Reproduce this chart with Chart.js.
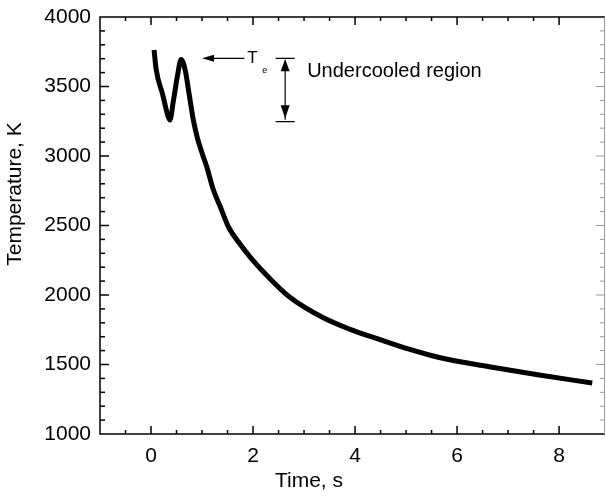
<!DOCTYPE html>
<html>
<head>
<meta charset="utf-8">
<script src="https://cdn.jsdelivr.net/npm/chart.js@4.4.0/dist/chart.umd.min.js"></script>
<style>
  html, body { margin: 0; padding: 0; background: #fff; }
  canvas { display: block; }
</style>
</head>
<body>
<canvas id="coolingChart" width="606" height="498"></canvas>
<script>
// cooling curve
const timeS = [0.06, 0.10, 0.23, 0.33, 0.37, 0.44, 0.52, 0.59, 0.67, 0.75, 0.83, 0.91, 1.00, 1.10, 1.21, 1.36, 1.53, 1.73, 1.96, 2.32, 2.71, 3.36, 3.89, 4.48, 5.06, 5.65, 6.63, 7.61, 8.65];
const tempK = [3763, 3625, 3440, 3290, 3259, 3400, 3580, 3695, 3619, 3439, 3259, 3129, 3022, 2914, 2770, 2633, 2482, 2374, 2266, 2122, 1988, 1840, 1755, 1680, 1610, 1550, 1484, 1424, 1367];

const xMajorLabels = [0, 2, 4, 6, 8];
const yMajorLabels = [1000, 1500, 2000, 2500, 3000, 3500, 4000];

// annotation values
const teLevel = 3703;      // T_e
const minLevel = 3247;     // bottom of undercooled region
const teArrowFrom = 1.83;
const teArrowTo = 1.0;
const regionX = 2.63;

const FONT = "'Liberation Sans', Arial, sans-serif";

const framePlugin = {
    id: 'frame',
    afterDraw(chart) {
        const { ctx, chartArea: a, scales } = chart;
        const xs = scales.x, ys = scales.y;
        ctx.save();

        // box
        ctx.strokeStyle = '#000';
        ctx.lineWidth = 1.5;
        ctx.beginPath();
        ctx.moveTo(a.right, a.top);
        ctx.lineTo(a.left, a.top);
        ctx.lineTo(a.left, a.bottom);
        ctx.lineTo(a.right, a.bottom);
        ctx.stroke();
        ctx.strokeStyle = '#999';
        ctx.lineWidth = 1;
        ctx.beginPath();
        ctx.moveTo(a.right - 0.5, a.top);
        ctx.lineTo(a.right - 0.5, a.bottom);
        ctx.stroke();

        // inward ticks on all four sides
        ctx.strokeStyle = '#000';
        ctx.lineWidth = 1.5;
        xs.ticks.forEach(t => {
            const v = Math.round(t.value * 100) / 100;
            if (Math.abs(v * 2 - Math.round(v * 2)) > 1e-6) return;
            if (v <= xs.min || v >= xs.max) return;
            const px = xs.getPixelForValue(v);
            const len = v % 2 === 0 ? 8 : 4;
            ctx.beginPath();
            ctx.moveTo(px, a.bottom); ctx.lineTo(px, a.bottom - len);
            ctx.moveTo(px, a.top); ctx.lineTo(px, a.top + len);
            ctx.stroke();
        });
        ys.ticks.forEach(t => {
            const v = t.value;
            if (v <= ys.min || v >= ys.max) return;
            const py = ys.getPixelForValue(v);
            const len = v % 500 === 0 ? 9 : 5;
            ctx.beginPath();
            ctx.moveTo(a.left, py); ctx.lineTo(a.left + len, py);
            ctx.stroke();
            ctx.save();
            ctx.strokeStyle = '#999';
            ctx.lineWidth = 1;
            ctx.beginPath();
            ctx.moveTo(a.right, py); ctx.lineTo(a.right - len, py);
            ctx.stroke();
            ctx.restore();
        });

        // axis titles
        ctx.fillStyle = '#000';
        ctx.font = '21px ' + FONT;
        ctx.textAlign = 'center';
        ctx.textBaseline = 'middle';
        ctx.fillText('Time, s', 309, 481);
        ctx.save();
        ctx.translate(15, 194);
        ctx.rotate(-Math.PI / 2);
        ctx.fillText('Temperature, K', 0, 0);
        ctx.restore();

        // T_e arrow
        const yTe = ys.getPixelForValue(teLevel);
        const x0 = xs.getPixelForValue(teArrowFrom);
        const x1 = xs.getPixelForValue(teArrowTo);
        ctx.lineWidth = 1.2;
        ctx.beginPath();
        ctx.moveTo(x0, yTe); ctx.lineTo(x1 + 10, yTe);
        ctx.stroke();
        ctx.beginPath();
        ctx.moveTo(x1, yTe);
        ctx.lineTo(x1 + 12, yTe - 3.5);
        ctx.lineTo(x1 + 12, yTe + 3.5);
        ctx.closePath();
        ctx.fill();
        ctx.textAlign = 'left';
        ctx.textBaseline = 'alphabetic';
        ctx.font = '17px ' + FONT;
        ctx.fillText('T', x0 + 3, yTe + 5);
        ctx.font = '9px ' + FONT;
        ctx.fillText('e', x0 + 18, yTe + 15);

        // undercooled region double arrow
        const xr = xs.getPixelForValue(regionX);
        const yMin = ys.getPixelForValue(minLevel);
        ctx.lineWidth = 1.2;
        ctx.beginPath();
        ctx.moveTo(xr - 9.5, yTe); ctx.lineTo(xr + 9.5, yTe);
        ctx.moveTo(xr - 9.5, yMin); ctx.lineTo(xr + 9.5, yMin);
        ctx.moveTo(xr, yTe + 2); ctx.lineTo(xr, yMin - 2);
        ctx.stroke();
        ctx.beginPath();
        ctx.moveTo(xr, yTe + 1);
        ctx.lineTo(xr - 4.5, yTe + 13);
        ctx.lineTo(xr + 4.5, yTe + 13);
        ctx.closePath();
        ctx.fill();
        ctx.beginPath();
        ctx.moveTo(xr, yMin - 3.5);
        ctx.lineTo(xr - 4.5, yMin - 16.5);
        ctx.lineTo(xr + 4.5, yMin - 16.5);
        ctx.closePath();
        ctx.fill();

        ctx.font = '20px ' + FONT;
        ctx.textBaseline = 'middle';
        ctx.fillText('Undercooled region', xr + 22, yTe + 13);

        ctx.restore();
    }
};

const noPad = s => {
    s.paddingLeft = 0; s.paddingRight = 0;
    s.paddingTop = 0; s.paddingBottom = 0;
};

const ctx = document.getElementById('coolingChart').getContext('2d');

const chart = new Chart(ctx, {
    type: 'line',
    data: {
        datasets: [{
            label: 'Temperature',
            data: timeS.map((t, i) => ({ x: t, y: tempK[i] })),
            borderColor: '#000',
            borderWidth: 5,
            pointRadius: 0,
            cubicInterpolationMode: 'monotone',
            fill: false
        }]
    },
    plugins: [framePlugin],
    options: {
        responsive: false,
        animation: false,
        layout: { padding: { top: 17, right: 1, left: 0, bottom: 0 } },
        plugins: {
            legend: { display: false },
            tooltip: { enabled: false }
        },
        scales: {
            x: {
                type: 'linear',
                min: -1,
                max: 8.9,
                afterFit: s => { s.height = 64; noPad(s); },
                grid: { display: false, drawTicks: false },
                border: { display: false },
                ticks: {
                    stepSize: 0.5,
                    autoSkip: false,
                    maxRotation: 0,
                    padding: 10,
                    color: '#000',
                    font: { family: FONT, size: 21 },
                    callback: v => xMajorLabels.includes(v) ? String(v) : ''
                }
            },
            y: {
                min: 1000,
                max: 4000,
                afterFit: s => { s.width = 100; noPad(s); },
                grid: { display: false, drawTicks: false },
                border: { display: false },
                ticks: {
                    stepSize: 100,
                    autoSkip: false,
                    padding: 9,
                    color: '#000',
                    font: { family: FONT, size: 21 },
                    callback: v => yMajorLabels.includes(v) ? String(v) : ''
                }
            }
        }
    }
});
</script>
</body>
</html>
